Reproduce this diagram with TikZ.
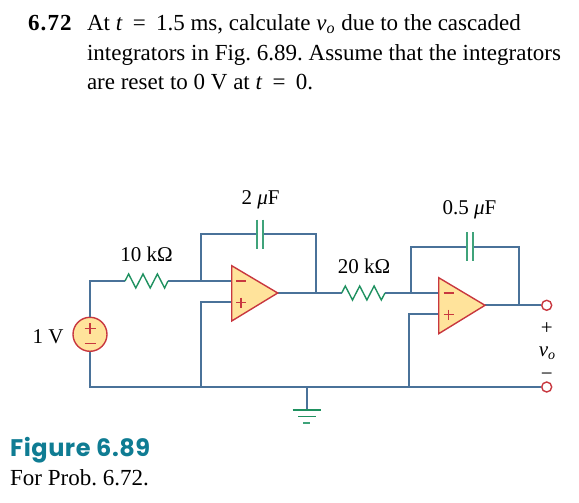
\documentclass[tikz,border=0pt]{standalone}
\usepackage{fontspec}
\setmainfont{Liberation Serif}
\newfontfamily\figfont{Poppins}
\definecolor{wirec}{HTML}{4A7299}
\definecolor{redc}{HTML}{C8373F}
\definecolor{fillc}{HTML}{FFE39B}
\definecolor{greenc}{HTML}{1F9160}
\definecolor{capc}{HTML}{3FA37A}
\definecolor{tealc}{HTML}{0F7C93}
\tikzset{
  wire/.style={draw=wirec,line width=1.7pt},
  res/.style={draw=greenc,line width=1.4pt,line join=miter},
  capplate/.style={draw=capc,line width=1.7pt},
  amp/.style={draw=redc,fill=fillc,line width=1.4pt,line join=miter},
  gnd/.style={draw=greenc,line width=1.5pt},
  sign/.style={draw=redc,line width=1.5pt},
  src/.style={circle,draw=redc,fill=fillc,line width=1.4pt,minimum size=34pt,inner sep=0pt},
  term/.style={circle,draw=redc,fill=white,line width=1.4pt,minimum size=10pt,inner sep=0pt},
  txt/.style={anchor=base west,inner sep=0pt,outer sep=0pt,font=\frenchspacing\fontsize{23}{28}\selectfont},
  lab/.style={anchor=base,inner sep=0pt,outer sep=0pt,font=\fontsize{21}{24}\selectfont}
}
\begin{document}
\begin{tikzpicture}[x=1pt,y=-1pt]
\useasboundingbox (0,0) rectangle (579,503);
% problem text
\node[txt] (p0) at (28,30.5) {\textbf{\addfontfeature{LetterSpace=5}6.72}};
\node[txt] (p1) at (87,30.5) {At \textit{t}\hspace{4.5pt} = \hspace{4.5pt}1.5 ms, calculate \textit{v}\raisebox{-3pt}{\fontsize{16}{16}\selectfont\textit{o}}\hspace{1pt} due to the cascaded};
\node[txt] (p2) at (87,60.5) {integrators in Fig. 6.89. Assume that the integrators};
\node[txt] (p3) at (87,90) {are reset to 0 V at \textit{t}\hspace{4.5pt} = \hspace{4.5pt}0.};
% caption
\node[anchor=base west,inner sep=0pt,text=tealc,font=\figfont\bfseries\fontsize{24}{28}\selectfont] (figt) at (10,456) {\addfontfeature{LetterSpace=2.2}Figure 6.89};
\node[anchor=base west,inner sep=0pt,font=\frenchspacing\fontsize{23}{26}\selectfont] (figc) at (10,485) {For Prob. 6.72.};
% key points
\coordinate (tl) at (90,281);
\coordinate (r1a) at (125,281);
\coordinate (r1b) at (168,281);
\coordinate (j1) at (200.7,281);
\coordinate (f1tl) at (200.7,234);
\coordinate (c1a) at (256.7,234);
\coordinate (c1b) at (263.3,234);
\coordinate (f1tr) at (316,234);
\coordinate (in1m) at (231.7,281);
\coordinate (in1p) at (231.7,302);
\coordinate (p1c) at (200.7,302);
\coordinate (out1) at (277.7,293);
\coordinate (j2) at (316,293);
\coordinate (r2a) at (341.7,293);
\coordinate (r2b) at (385,293);
\coordinate (j3) at (411,293);
\coordinate (f2tl) at (411,246.7);
\coordinate (c2a) at (466.7,246.7);
\coordinate (c2b) at (472.7,246.7);
\coordinate (f2tr) at (518.7,246.7);
\coordinate (in2m) at (438.7,293);
\coordinate (in2p) at (438.7,314.3);
\coordinate (p2c) at (409.3,314.3);
\coordinate (out2) at (485,305.3);
\coordinate (j4) at (518.7,305.3);
\coordinate (bl) at (90,387);
\coordinate (b1) at (200.7,387);
\coordinate (bg) at (306.7,387);
\coordinate (b2) at (409.3,387);
\coordinate (g0) at (306.7,410);
\node[src] (vs) at (90,334.3) {};
\node[term] (to) at (546.7,305.3) {};
\node[term] (tb) at (546.7,387) {};
% wires
\draw[wire] (vs.north) -- (tl) -- (r1a);
\draw[wire] (r1b) -- (in1m);
\draw[wire] (j1) -- (f1tl) -- (c1a);
\draw[wire] (c1b) -- (f1tr) -- (j2);
\draw[wire] (in1p) -- (p1c) -- (b1);
\draw[wire] (out1) -- (j2) -- (r2a);
\draw[wire] (r2b) -- (in2m);
\draw[wire] (j3) -- (f2tl) -- (c2a);
\draw[wire] (c2b) -- (f2tr) -- (j4);
\draw[wire] (in2p) -- (p2c) -- (b2);
\draw[wire] (out2) -- (to);
\draw[wire] (vs.south) -- (bl) -- (tb);
\draw[wire] (bg) -- (g0);
% resistors
\draw[res] (r1a) -- ++(3.6,-7) -- ++(7.2,14) -- ++(7.2,-14) -- ++(7.2,14) -- ++(7.2,-14) -- ++(7.2,14) -- (r1b);
\draw[res] (r2a) -- ++(3.6,-7) -- ++(7.2,14) -- ++(7.2,-14) -- ++(7.2,14) -- ++(7.2,-14) -- ++(7.2,14) -- (r2b);
% capacitors
\draw[capplate] (c1a) ++(0,-14.5) -- ++(0,29);
\draw[capplate] (c1b) ++(0,-14.5) -- ++(0,29);
\draw[capplate] (c2a) ++(0,-14.5) -- ++(0,29);
\draw[capplate] (c2b) ++(0,-14.5) -- ++(0,29);
% op amps
\draw[amp] (231.7,265.7) -- (out1) -- (231.7,321) -- cycle;
\draw[amp] (438.7,277.7) -- (out2) -- (438.7,333.7) -- cycle;
% op amp signs
\draw[sign] (236,281) -- ++(10,0);
\draw[sign] (236,302.5) -- ++(10,0) (241,297.5) -- ++(0,10);
\draw[sign] (443.5,293) -- ++(10,0);
\draw[sign] (443.5,314.5) -- ++(10,0) (448.5,309.5) -- ++(0,10);
% source signs
\draw[sign] (84.5,328.5) -- ++(11,0) (90,323) -- ++(0,11);
\draw[sign] (84.5,343.5) -- ++(11,0);
% ground
\draw[gnd] (292.7,410) -- (320.7,410);
\draw[gnd] (298,416.5) -- (315.5,416.5);
\draw[capplate] (303.3,423) -- (310.3,423);
% labels
\node[lab] (l1) at (260.5,204) {2 \textit{μ}F};
\node[lab] (l2) at (146.5,261) {10 kΩ};
\node[lab] (l3) at (469.5,214) {0.5 \textit{μ}F};
\node[lab] (l4) at (364,273) {20 kΩ};
\node[lab] (l5) at (48,343) {1 V};
\node[lab,font=\fontsize{21}{22}\selectfont] (vp) at (546.7,334) {+};
\node[lab,font=\fontsize{21}{22}\selectfont] (vv) at (547,356) {\textit{v}\raisebox{-3pt}{\fontsize{14}{14}\selectfont\textit{o}}};
\node[lab] (vm) at (546.7,380) {\textminus};
\end{tikzpicture}
\end{document}
